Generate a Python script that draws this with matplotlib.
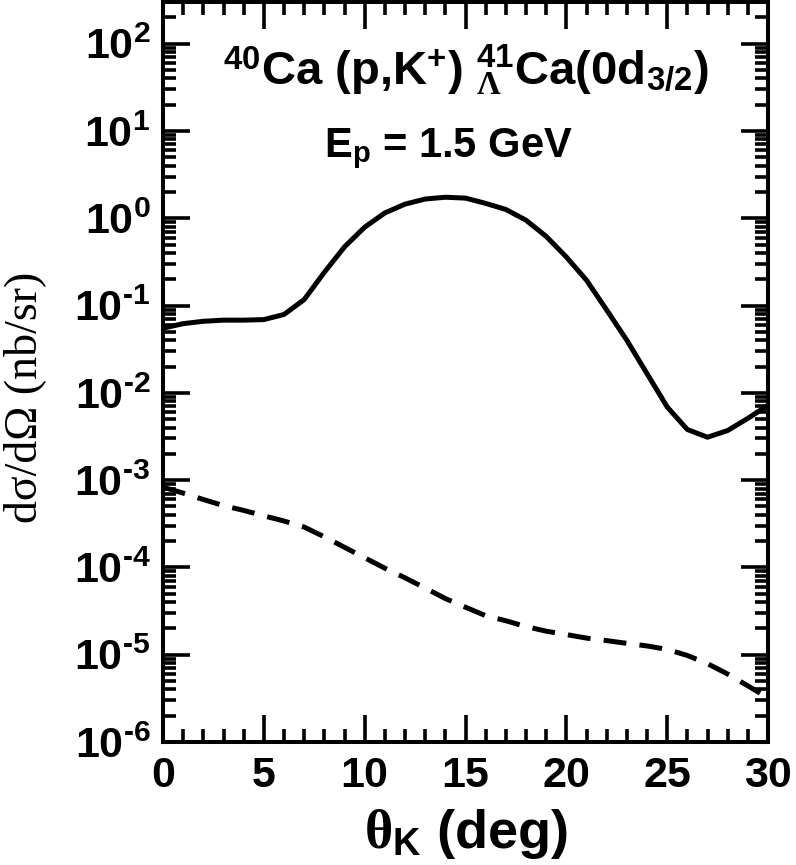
import numpy as np
import matplotlib
matplotlib.use("Agg")
import matplotlib.pyplot as plt
from matplotlib.ticker import LogLocator, MultipleLocator, FuncFormatter, NullFormatter

# =========================
# DATA
# =========================
theta_deg = [0, 1, 2, 3, 4, 5, 6, 7, 8, 9, 10, 11, 12, 13, 14, 15,
             16, 17, 18, 19, 20, 21, 22, 23, 24, 25, 26, 27, 28, 29, 30]

# solid curve (nb/sr)
xsec_solid = [0.055, 0.062, 0.066, 0.068, 0.068, 0.069, 0.079, 0.117, 0.24, 0.47,
              0.79, 1.15, 1.45, 1.66, 1.74, 1.70, 1.48, 1.26, 0.95, 0.62,
              0.36, 0.195, 0.089, 0.040, 0.0166, 0.0069, 0.0038, 0.0031, 0.0037, 0.0051,
              0.0072]

# dashed curve (nb/sr)
xsec_dashed = [8.3e-4, 7.1e-4, 6.0e-4, 5.1e-4, 4.5e-4, 3.9e-4, 3.4e-4, 2.9e-4, 2.24e-4, 1.70e-4,
               1.29e-4, 9.8e-5, 7.6e-5, 5.8e-5, 4.4e-5, 3.5e-5, 2.8e-5, 2.45e-5, 2.1e-5, 1.86e-5,
               1.70e-5, 1.55e-5, 1.45e-5, 1.35e-5, 1.26e-5, 1.15e-5, 9.8e-6, 7.9e-6, 6.0e-6, 4.4e-6,
               3.2e-6]

title_text = r'$^{\mathbf{40}}$Ca (p,K$^{\mathbf{+}}$) $^{\mathbf{41}}_{\Lambda}$Ca(0d$_{\mathbf{3/2}}$)'
energy_text = r'E$_{\mathbf{p}}$ = 1.5 GeV'

# =========================
# STYLE
# =========================
plt.rcParams['font.family'] = ['Liberation Sans', 'DejaVu Sans']
plt.rcParams['font.weight'] = 'bold'
plt.rcParams['mathtext.fontset'] = 'custom'
plt.rcParams['mathtext.bf'] = 'Liberation Sans:bold'
plt.rcParams['mathtext.rm'] = 'Liberation Serif'
plt.rcParams['mathtext.it'] = 'Liberation Serif:italic'
plt.rcParams['mathtext.default'] = 'rm'
plt.rcParams['lines.scale_dashes'] = False

fig = plt.figure(figsize=(7.96, 8.65), dpi=100)
ax = fig.add_axes([163 / 796, 123 / 865, 605 / 796, 740 / 865])

# =========================
# CURVES
# =========================
ax.plot(theta_deg, xsec_solid, color='black', lw=3.6, solid_joinstyle='round')
ax.plot(theta_deg, xsec_dashed, color='black', lw=3.6, dashes=(16.5, 9.5))

# =========================
# AXES
# =========================
ax.set_yscale('log')
ax.set_xlim(0, 30)
ax.set_ylim(1e-6, 3e2)


def decade_label(v, pos):
    e = int(round(np.log10(v)))
    # short hyphen for the minus sign, like the original
    s = str(e).replace('-', '\u2010')
    return r'$\mathbf{10^{%s}}$' % s


ax.xaxis.set_major_locator(MultipleLocator(5))
ax.xaxis.set_minor_locator(MultipleLocator(1))
ax.yaxis.set_major_locator(LogLocator(base=10, numticks=20))
ax.yaxis.set_minor_locator(LogLocator(base=10, subs=np.arange(2, 10), numticks=20))
ax.yaxis.set_minor_formatter(NullFormatter())
ax.yaxis.set_major_formatter(FuncFormatter(decade_label))
ax.xaxis.set_major_formatter(FuncFormatter(lambda v, pos: '%d' % v))

for s in ax.spines.values():
    s.set_linewidth(2.9)

ax.tick_params(which='both', direction='in', top=True, right=True, width=2.6)
ax.tick_params(which='major', length=19.5)
ax.tick_params(which='minor', length=9.5)
ax.tick_params(axis='x', which='major', labelsize=31, pad=10)
ax.tick_params(axis='y', which='major', labelsize=31, pad=9)
for lab in ax.get_xticklabels() + ax.get_yticklabels():
    lab.set_fontweight('bold')

ax.set_ylabel('dσ/dΩ (nb/sr)', family='Liberation Serif', fontweight='normal',
              fontsize=33)
ax.yaxis.set_label_coords(-0.193, 0.466)
ax.set_xlabel(r'$\theta_{\mathbf{K}}$ (deg)', fontsize=39, fontweight='bold')
ax.xaxis.set_label_coords(0.5, -0.088)

# =========================
# ANNOTATIONS
# =========================
ax.text(0.5, 0.888, title_text, transform=ax.transAxes, ha='center', va='baseline',
        fontsize=34, fontweight='bold')
ax.text(0.471, 0.79, energy_text, transform=ax.transAxes, ha='center', va='baseline',
        fontsize=30, fontweight='bold')

fig.savefig('out.png', dpi=100)
